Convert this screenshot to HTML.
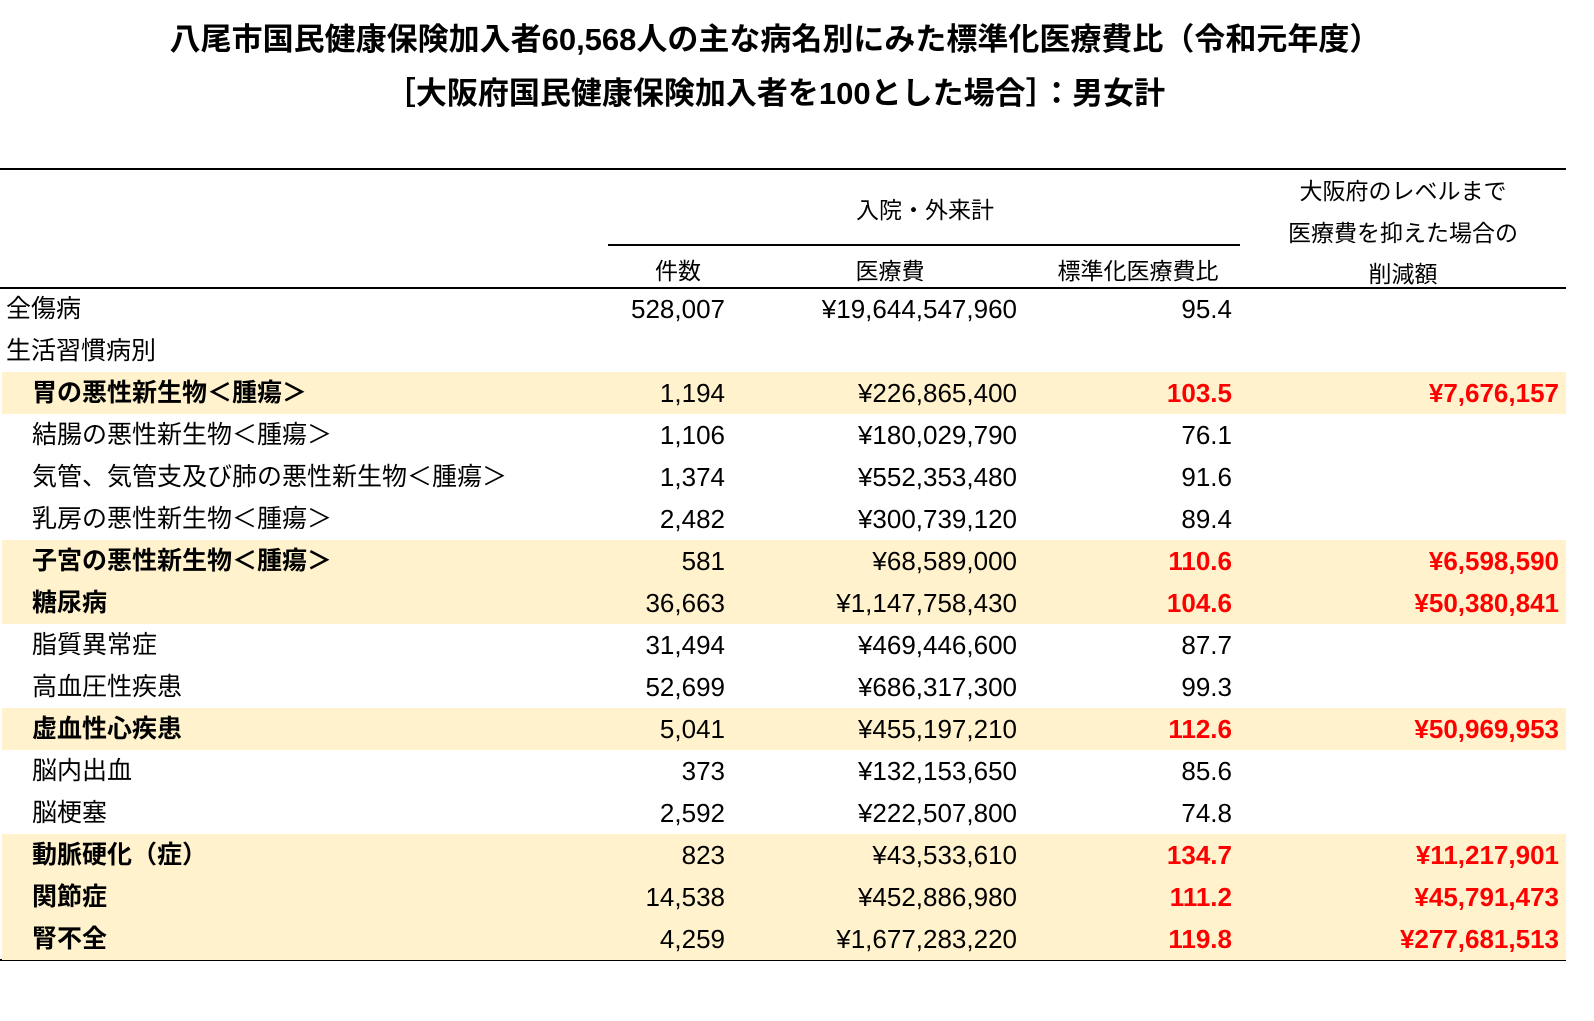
<!DOCTYPE html>
<html style="margin:0;padding:0;overflow:hidden;width:1594px;height:1021px"><head><meta charset="utf-8"><style>
body{margin:0;width:1594px;height:1021px;background:#fff;position:relative;font-family:"Liberation Sans","Noto Sans CJK JP",sans-serif;color:#000;overflow:hidden}
#wrap{position:absolute;left:0;top:0;width:1594px;height:1021px;overflow:hidden}
.a{position:absolute;white-space:nowrap}
.t{font-weight:bold;font-size:31px;width:1500px;left:25px;text-align:center}
.line{position:absolute;background:#000}
.h{font-size:23px;text-align:center}
.row{position:absolute;left:2px;width:1564px;height:42px;overflow:hidden}
.row.hl{background:#fff2cc}
.c{position:absolute;top:0;line-height:42px;font-size:26px;white-space:nowrap;overflow:hidden}
.lab{font-size:25px}
.r{text-align:right}
.red{color:#ff0000;font-weight:bold}
.b{font-weight:bold}
</style></head><body>
<div id="wrap">
<div class="a t" style="top:14px">八尾市国民健康保険加入者60,568人の主な病名別にみた標準化医療費比（令和元年度）</div>
<div class="a t" style="top:68px">［大阪府国民健康保険加入者を100とした場合］：男女計</div>
<div class="line" style="left:0;top:168px;width:1566px;height:2px"></div>
<div class="line" style="left:608px;top:244px;width:632px;height:2px"></div>
<div class="line" style="left:0;top:287px;width:1566px;height:2px"></div>
<div class="line" style="left:0;top:959px;width:1566px;height:2px"></div>
<div class="a h" style="left:825px;width:200px;top:191px">入院・外来計</div>
<div class="a h" style="left:628px;width:100px;top:252px">件数</div>
<div class="a h" style="left:790px;width:200px;top:252px">医療費</div>
<div class="a h" style="left:1038px;width:200px;top:252px">標準化医療費比</div>
<div class="a h" style="left:1253px;width:300px;top:171px;line-height:41.5px">大阪府のレベルまで<br>医療費を抑えた場合の<br>削減額</div>
<div id="rows"></div>
</div>
<script>
const labels=["全傷病","生活習慣病別","胃の悪性新生物＜腫瘍＞","結腸の悪性新生物＜腫瘍＞","気管、気管支及び肺の悪性新生物＜腫瘍＞","乳房の悪性新生物＜腫瘍＞","子宮の悪性新生物＜腫瘍＞","糖尿病","脂質異常症","高血圧性疾患","虚血性心疾患","脳内出血","脳梗塞","動脈硬化（症）","関節症","腎不全"];
const counts=["528,007","","1,194","1,106","1,374","2,482","581","36,663","31,494","52,699","5,041","373","2,592","823","14,538","4,259"];
const costs=["¥19,644,547,960","","¥226,865,400","¥180,029,790","¥552,353,480","¥300,739,120","¥68,589,000","¥1,147,758,430","¥469,446,600","¥686,317,300","¥455,197,210","¥132,153,650","¥222,507,800","¥43,533,610","¥452,886,980","¥1,677,283,220"];
const ratios=["95.4","","103.5","76.1","91.6","89.4","110.6","104.6","87.7","99.3","112.6","85.6","74.8","134.7","111.2","119.8"];
const savings=["","","¥7,676,157","","","","¥6,598,590","¥50,380,841","","","¥50,969,953","","","¥11,217,901","¥45,791,473","¥277,681,513"];
const host=document.getElementById('rows');
labels.forEach((lab,i)=>{
  const r=parseFloat(ratios[i]);
  const hl=i>=2&&r>100;
  const row=document.createElement('div');
  row.className='row'+(hl?' hl':'');
  row.style.top=(288+42*i)+'px';
  
  
  const mk=(txt,left,width,cls,name)=>{
    const d=document.createElement('div');
    d.className='c '+cls;
    d.style.left=left+'px';d.style.width=width+'px';
    d.textContent=txt;
    
    
    row.appendChild(d);
  };
  mk(lab,i>=2?30:4,560,'lab'+(hl?' b':''),'disease-name');
  mk(counts[i],520,203,'r','count');
  mk(costs[i],720,295,'r','cost');
  mk(ratios[i],1030,200,'r'+(hl?' red':''),'ratio');
  mk(savings[i],1260,297,'r red','reduction');
  host.appendChild(row);
});
</script>
</body></html>
